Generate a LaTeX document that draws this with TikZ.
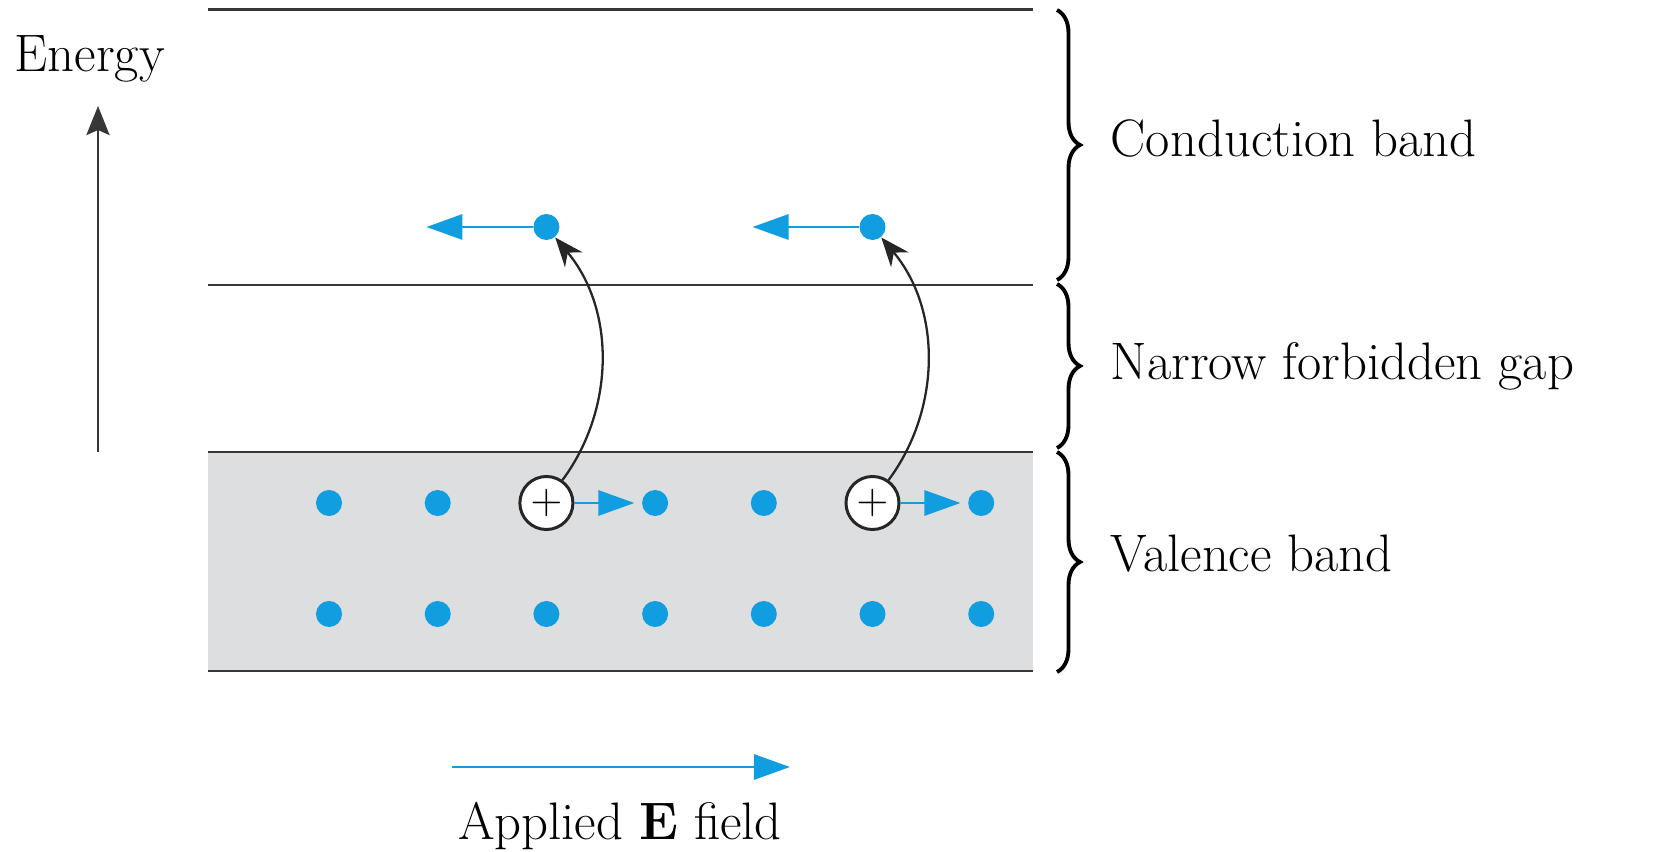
\documentclass[tikz,border=0pt]{standalone}
\usepackage{amsmath}
\usepackage{tikz}
\usetikzlibrary{arrows.meta,decorations.pathreplacing,positioning}
\definecolor{eblue}{RGB}{16,158,225}
\definecolor{vgray}{RGB}{221,222,224}
\definecolor{bandline}{RGB}{55,55,55}
\tikzset{
  electron/.style={circle,fill=eblue,inner sep=0pt,minimum size=0.26cm},
  hole/.style={circle,draw=black!85,line width=0.85pt,fill=white,inner sep=0pt,
    minimum size=0.53cm,font=\fontsize{13}{13}\selectfont},
  field/.style={eblue,line width=0.85pt,-{Triangle[length=3.6mm,width=2.5mm]}},
  band/.style={bandline,line width=0.85pt},
  jump/.style={black!85,line width=0.65pt,-{Stealth[length=2.9mm,width=2.3mm]}},
  bandbrace/.style={decorate,decoration={brace,amplitude=0.23cm},line width=1.1pt},
  bandtext/.style={anchor=base west,inner sep=0pt,font=\fontsize{15}{18}\selectfont}
}

\begin{document}
\begin{tikzpicture}[x=0.01cm,y=-0.01cm]
    \useasboundingbox (0,0) rectangle (1666,852);
    % bands
    \fill[vgray] (208,452) rectangle (1033,671);
    \draw[band] (208,10) -- (1033,10);
    \draw[band] (208,285) -- (1033,285);
    \draw[band] (208,452) -- (1033,452);
    \draw[band] (208,671) -- (1033,671);
    % energy axis
    \node[bandtext] (energy) at (14,72) {Energy};
    \coordinate (eaxis) at (98,452);
    \coordinate (etip) at (98,106);
    \draw[bandline,line width=0.85pt,-{Stealth[length=2.9mm,width=2.3mm,inset=0.5mm]}] (eaxis) -- (etip);
    % valence electrons
    \foreach \i in {0,1,3,4,6}
        \node[electron] (v1-\i) at (329+108.7*\i,503) {};
    \foreach \i in {0,...,6}
        \node[electron] (v2-\i) at (329+108.7*\i,614) {};
    \node[hole] (h1) at (546.4,503) {$+$};
    \node[hole] (h2) at (872.5,503) {$+$};
    % conduction electrons
    \node[electron] (c1) at (546.4,227) {};
    \node[electron] (c2) at (872.5,227) {};
    \draw[field] (c1) -- ++(-120,0);
    \draw[field] (c2) -- ++(-120,0);
    \draw[field,shorten >=0.07cm] (h1) -- (v1-3);
    \draw[field,shorten >=0.07cm] (h2) -- (v1-6);
    \draw[jump] (h1.55) .. controls +(52,-70) and +(61,73) .. (c1.-50);
    \draw[jump] (h2.55) .. controls +(52,-70) and +(61,73) .. (c2.-50);
    % braces and labels
    \draw[bandbrace] (1057,10) -- (1057,280);
    \draw[bandbrace] (1057,284) -- (1057,448);
    \draw[bandbrace] (1057,452) -- (1057,672);
    \node[bandtext] (cond) at (1110,157) {Conduction band};
    \node[bandtext] (gap) at (1110,380) {Narrow forbidden gap};
    \node[bandtext] (val) at (1110,572) {Valence band};
    % applied field
    \coordinate (f0) at (452,767);
    \coordinate (f1) at (790,767);
    \draw[field] (f0) -- (f1);
    \node[bandtext,anchor=base] (applied) at (620,839) {Applied \textbf{E} field};
\end{tikzpicture}
\end{document}
